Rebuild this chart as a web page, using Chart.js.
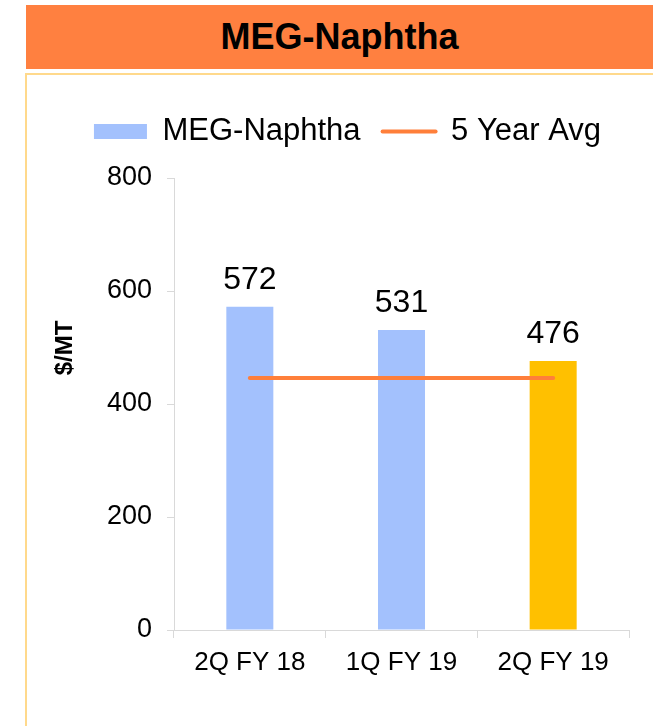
<!DOCTYPE html>
<html>
<head>
<meta charset="utf-8">
<script src="https://cdn.jsdelivr.net/npm/chart.js@4"></script>
<style>
  body { margin: 0; background: #fff; font-family: "Liberation Sans", Arial, sans-serif; }
  #header {
    position: absolute; left: 26px; top: 5px; width: 627px; height: 64px;
    background: #FF8040; color: #000; font-weight: bold; font-size: 36px;
    line-height: 64px; text-align: center;
  }
  #box {
    position: absolute; left: 25px; top: 73px; width: 640px; height: 700px;
    border-left: 2px solid #FFD98C; border-top: 2px solid #FFD98C;
  }
  #wrap { position: absolute; left: 0; top: 0; width: 653px; height: 726px; }
</style>
</head>
<body>
<div id="header">MEG-Naphtha</div>
<div id="box"></div>
<div id="wrap"><canvas id="myChart"></canvas></div>
<script>
var quarters = ['2Q FY 18', '1Q FY 19', '2Q FY 19'];
var megNaphtha = [572, 531, 476];
var fiveYearAvg = [446, 446, 446];
var yTicks = [0, 200, 400, 600, 800];

var font = '"Liberation Sans", Arial, sans-serif';

// value labels above bars + rotated y title, and extra room under the legend
var extras = {
    id: 'extras',
    beforeInit: function (chart) {
        var legend = chart.legend;
        if (legend) {
            var fit = legend.fit;
            legend.fit = function () {
                fit.call(this);
                this.height += 21;
            };
        }
    },
    afterDatasetsDraw: function (chart) {
        var ctx = chart.ctx;
        var meta = chart.getDatasetMeta(0);
        ctx.save();
        ctx.fillStyle = '#000';
        ctx.font = '32px ' + font;
        ctx.textAlign = 'center';
        ctx.textBaseline = 'alphabetic';
        meta.data.forEach(function (bar, i) {
            ctx.fillText(megNaphtha[i], bar.x, bar.y - 18);
        });
        ctx.translate(65, 348);
        ctx.rotate(-Math.PI / 2);
        ctx.font = 'bold 24px ' + font;
        ctx.textBaseline = 'middle';
        ctx.fillText('$/MT', 0, 0);
        ctx.restore();
    }
};

var ctx = document.getElementById('myChart').getContext('2d');
var myChart = new Chart(ctx, {
    type: 'bar',
    data: {
        labels: quarters,
        datasets: [{
            label: 'MEG-Naphtha',
            data: megNaphtha,
            backgroundColor: ['#A3C1FD', '#A3C1FD', '#FFC000'],
            barPercentage: 0.31,
            categoryPercentage: 1,
            order: 2
        }, {
            type: 'line',
            label: '5 Year Avg',
            data: fiveYearAvg,
            borderColor: '#FF7F3A',
            borderWidth: 4,
            borderCapStyle: 'round',
            pointRadius: 0,
            fill: false,
            order: 1
        }]
    },
    options: {
        responsive: true,
        maintainAspectRatio: false,
        animation: false,
        layout: {
            padding: { top: 94, left: 66, right: 24, bottom: 0 }
        },
        plugins: {
            tooltip: { enabled: false },
            legend: {
                position: 'top',
                labels: {
                    usePointStyle: true,
                    pointStyleWidth: 53,
                    boxHeight: 15,
                    padding: 22,
                    color: '#000',
                    font: { size: 31, family: font },
                    generateLabels: function () {
                        return [{
                            text: 'MEG-Naphtha', fillStyle: '#A3C1FD', strokeStyle: '#A3C1FD',
                            lineWidth: 0, pointStyle: 'rect', datasetIndex: 0, hidden: false
                        }, {
                            text: '5 Year Avg', fillStyle: '#FF7F3A', strokeStyle: '#FF7F3A',
                            lineWidth: 4, lineCap: 'round', pointStyle: 'line', datasetIndex: 1, hidden: false
                        }];
                    }
                }
            }
        },
        scales: {
            x: {
                offset: true,
                grid: { drawOnChartArea: false, tickLength: 8, color: '#D9D9D9', offset: true },
                border: { color: '#D9D9D9' },
                ticks: { color: '#000', padding: 9, font: { size: 26, family: font } },
                afterFit: function (scale) { scale.height = 96; }
            },
            y: {
                min: 0,
                max: 800,
                afterBuildTicks: function (scale) {
                    scale.ticks = yTicks.map(function (v) { return { value: v }; });
                },
                grid: { drawOnChartArea: false, tickLength: 7, color: '#D9D9D9' },
                border: { color: '#D9D9D9' },
                ticks: { color: '#000', padding: 15, font: { size: 27, family: font } },
                afterFit: function (scale) { scale.width = 108; }
            }
        }
    },
    plugins: [extras]
});
</script>
</body>
</html>
